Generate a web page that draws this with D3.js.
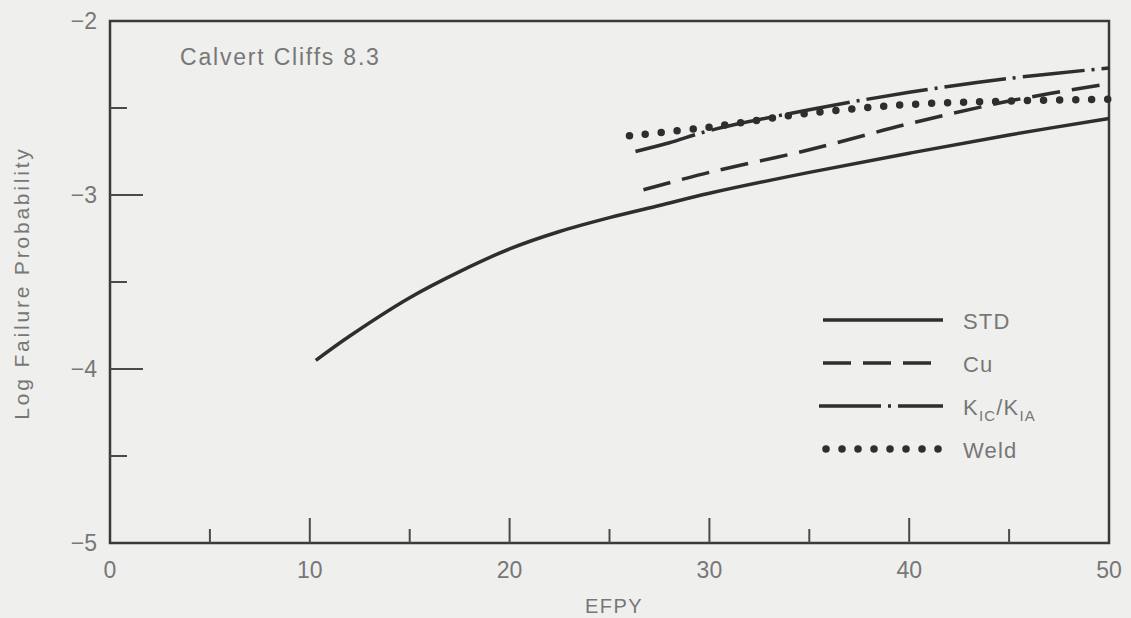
<!DOCTYPE html>
<html>
<head>
<meta charset="utf-8">
<script src="https://cdn.jsdelivr.net/npm/d3@7"></script>
<style>
    body { margin: 0; background: #efefee; }
    svg { display: block; font-family: "Liberation Sans", Arial, sans-serif; }
    .lbl { fill: #777; }
    .frame { fill: none; stroke: #3a3a3a; stroke-width: 2.5; }
    .tick { stroke: #4a4a4a; stroke-width: 2; }
    .curve { fill: none; stroke: #2e2e2e; }
</style>
</head>
<body>
<div id="chart"></div>
<script>

// Data (EFPY, log failure probability)

const std = [[10.3, -3.95], [12, -3.81], [15, -3.59], [17.5, -3.44], [20, -3.31], [22.5, -3.21],
    [25, -3.13], [27.5, -3.06], [30, -2.99], [35, -2.87], [40, -2.76], [45, -2.655], [50, -2.56]];
const cu = [[26.7, -2.97], [30, -2.87], [35, -2.74], [40, -2.59], [45, -2.46], [50, -2.36]];
const kic = [[26.3, -2.75], [28, -2.70], [30, -2.63], [35, -2.51], [40, -2.41], [45, -2.33], [50, -2.27]];
const weld = [[26, -2.66], [30, -2.61], [35, -2.53], [40, -2.48], [45, -2.46], [50, -2.45]];

const xMajor = [0, 10, 20, 30, 40, 50];
const xMinor = [5, 15, 25, 35, 45];
const yMajor = [-2, -3, -4, -5];
const yMinor = [-2.5, -3.5, -4.5];

const series = [
    { key: "STD", data: std, dash: null },
    { key: "Cu", data: cu, dash: "28 12" },
    { key: "KIC", data: kic, dash: "62 7 3 7" },
    { key: "Weld", data: weld, dash: "0 16" }
];

const width = 1131, height = 618;
const margin = { left: 110, right: 22, top: 21, bottom: 75 };

const svg = d3.select("#chart").append("svg")
    .attr("width", width)
    .attr("height", height);

const x = d3.scaleLinear().domain([0, 50]).range([margin.left, width - margin.right]);
const y = d3.scaleLinear().domain([-5, -2]).range([height - margin.bottom, margin.top]);

// Frame

svg.append("rect")
    .attr("class", "frame")
    .attr("x", x(0)).attr("y", y(-2))
    .attr("width", x(50) - x(0))
    .attr("height", y(-5) - y(-2));

// Ticks (drawn inward)

svg.selectAll(".xt")
    .data(xMajor.slice(1, -1).map(d => [d, 25]).concat(xMinor.map(d => [d, 14])))
    .join("line")
    .attr("class", "tick")
    .attr("x1", d => x(d[0])).attr("x2", d => x(d[0]))
    .attr("y1", y(-5)).attr("y2", d => y(-5) - d[1]);

svg.selectAll(".yt")
    .data(yMajor.slice(1, -1).map(d => [d, 33]).concat(yMinor.map(d => [d, 17])))
    .join("line")
    .attr("class", "tick")
    .attr("x1", x(0)).attr("x2", d => x(0) + d[1])
    .attr("y1", d => y(d[0])).attr("y2", d => y(d[0]));

// Tick labels

svg.selectAll(".xl")
    .data(xMajor)
    .join("text")
    .attr("class", "lbl")
    .attr("x", d => x(d))
    .attr("y", y(-5) + 35)
    .attr("text-anchor", "middle")
    .attr("font-size", 23)
    .text(d => d);

svg.selectAll(".yl")
    .data(yMajor)
    .join("text")
    .attr("class", "lbl")
    .attr("x", x(0) - 13)
    .attr("y", d => y(d) + 8)
    .attr("text-anchor", "end")
    .attr("font-size", 23)
    .text(d => "\u2212" + Math.abs(d));

// Axis titles

svg.append("text")
    .attr("class", "lbl")
    .attr("x", 614).attr("y", 613)
    .attr("text-anchor", "middle")
    .attr("font-size", 20)
    .attr("letter-spacing", 1.5)
    .text("EFPY");

svg.append("text")
    .attr("class", "lbl")
    .attr("transform", "translate(29,283) rotate(-90)")
    .attr("text-anchor", "middle")
    .attr("font-size", 21)
    .attr("letter-spacing", 2.8)
    .text("Log Failure Probability");

svg.append("text")
    .attr("class", "lbl")
    .attr("x", 180).attr("y", 65)
    .attr("font-size", 23)
    .attr("letter-spacing", 1.8)
    .text("Calvert Cliffs 8.3");

// Curves

const line = d3.line()
    .x(d => x(d[0]))
    .y(d => y(d[1]))
    .curve(d3.curveCatmullRom.alpha(0.5));

function styleCurve(sel) {
    sel.attr("class", "curve")
        .attr("stroke-dasharray", d => d.dash)
        .style("stroke-linecap", d => d.key === "Weld" ? "round" : "butt")
        .style("stroke-width", d => d.key === "Weld" ? 7.5 : 3.5);
}

svg.selectAll(".curve")
    .data(series)
    .join("path")
    .attr("d", d => line(d.data))
    .call(styleCurve);

// Legend

const legend = svg.append("g")
    .attr("transform", "translate(823,320)");

const item = legend.selectAll("g")
    .data(series)
    .join("g")
    .attr("transform", (d, i) => `translate(0,${ i * 43 })`);

item.append("line")
    .attr("x1", d => d.key === "KIC" ? -4 : (d.key === "Weld" ? 3 : 0))
    .attr("x2", 120)
    .call(styleCurve);

const txt = item.append("text")
    .attr("class", "lbl")
    .attr("x", 140)
    .attr("y", 9)
    .attr("font-size", 22)
    .attr("letter-spacing", 1.2);

txt.filter(d => d.key !== "KIC").text(d => d.key);

const k = txt.filter(d => d.key === "KIC");
k.append("tspan").text("K");
k.append("tspan").attr("font-size", 15).attr("dy", 6).text("IC");
k.append("tspan").attr("dy", -6).text("/K");
k.append("tspan").attr("font-size", 15).attr("dy", 6).text("IA");

</script>
</body>
</html>
